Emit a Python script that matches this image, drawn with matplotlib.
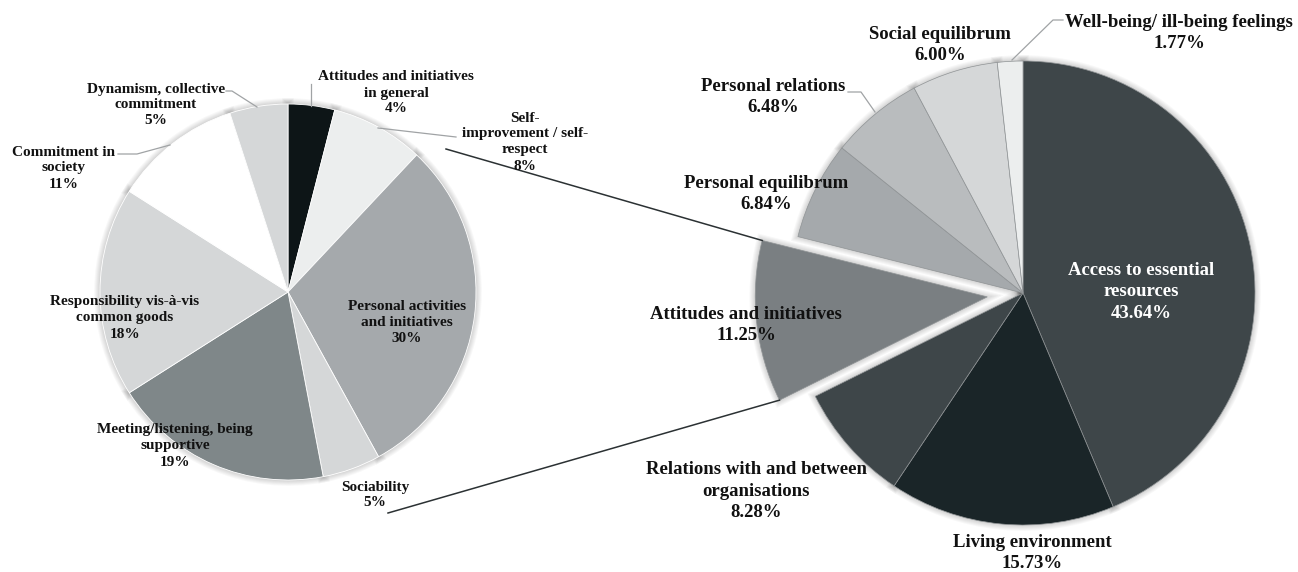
import matplotlib
matplotlib.use("Agg")
import matplotlib.pyplot as plt
from matplotlib.patches import Wedge
import numpy as np

# Left pie: breakdown of "Attitudes and initiatives"
left_labels = ["Attitudes and initiatives\nin general", "Self-\nimprovement / self-\nrespect",
               "Personal activities\nand initiatives", "Sociability",
               "Meeting/listening, being\nsupportive", "Responsibility vis-à-vis\ncommon goods",
               "Commitment in\nsociety", "Dynamism, collective\ncommitment"]
left_values = [4, 8, 30, 5, 19, 18, 11, 5]
left_colors = ["#0d1517", "#eceeee", "#a5a9ac", "#d5d7d8", "#7f8789", "#d5d7d8", "#ffffff", "#d5d7d8"]

# Right pie: all dimensions
right_labels = ["Access to essential\nresources", "Living environment",
                "Relations with and between\norganisations", "Attitudes and initiatives",
                "Personal equilibrum", "Personal relations", "Social equilibrum",
                "Well-being/ ill-being feelings"]
right_values = [43.64, 15.73, 8.28, 11.25, 6.84, 6.48, 6.00, 1.77]
right_colors = ["#3e4649", "#1a2528", "#3e4649", "#7a7f82", "#a5a9ac", "#b9bcbe", "#d5d7d8", "#eceeee"]

W, H = 1298, 572
fig = plt.figure(figsize=(W / 100, H / 100), dpi=100)
ax = fig.add_axes([0, 0, 1, 1])


def P(x, y):
    # pixel coords (y down) -> data coords (y up)
    return (x, H - y)


def glow(wedges):
    # soft grey halo behind every wedge
    for w in wedges:
        for k in range(1, 7):
            ax.add_patch(Wedge(w.center, w.r, w.theta1, w.theta2, facecolor="none",
                               edgecolor="black", lw=k * 1.4, alpha=0.026, zorder=0))


# left pie
wl, _ = ax.pie(left_values, colors=left_colors, startangle=90, counterclock=False,
               center=P(288, 292), radius=188, frame=False,
               wedgeprops=dict(edgecolor="white", linewidth=0.6, zorder=2))
glow(wl)

# right pie, "Attitudes and initiatives" pulled out
r_right = 232
explode = [0.155 * r_right if lab == "Attitudes and initiatives" else 0 for lab in right_labels]
wr, _ = ax.pie(right_values, colors=right_colors, startangle=90, counterclock=False,
               center=P(1023, 293), radius=r_right, explode=explode, frame=False,
               wedgeprops=dict(edgecolor="#8f9395", linewidth=0.5, zorder=2))
glow(wr)

ax.set_xlim(0, W)
ax.set_ylim(0, H)
ax.set_aspect("equal")
ax.axis("off")

# labels
left_pos = [(396, 93), (525, 142), (407, 322), (375, 495), (175, 446), (125, 318), (64, 168), (156, 105)]
for lab, v, (x, y) in zip(left_labels, left_values, left_pos):
    ax.text(*P(x, y), f"{lab}\n{v}%", ha="center", va="center", fontsize=11,
            fontweight="bold", family="Liberation Serif", linespacing=1.3,
            color="#111111", zorder=5)

right_pos = [(1141, 292), (1032, 553), (756, 491), (746, 325), (766, 194), (773, 97), (940, 45), (1179, 33)]
for i, (lab, v, (x, y)) in enumerate(zip(right_labels, right_values, right_pos)):
    ax.text(*P(x, y), f"{lab}\n{v:.2f}%", ha="center", va="center", fontsize=13.5,
            fontweight="bold", family="Liberation Serif", linespacing=1.36,
            color="white" if i == 0 else "#111111", zorder=5)

# leader lines
leaders = [
    [(311, 106), (311, 84)],
    [(378, 128), (456, 137)],
    [(170, 145), (137, 154), (118, 154)],
    [(257, 107), (232, 91), (226, 91)],
    [(875, 112), (861, 92), (848, 92)],
    [(1012, 60), (1053, 20), (1063, 20)],
]
for pts in leaders:
    xs = [p[0] for p in pts]
    ys = [H - p[1] for p in pts]
    ax.plot(xs, ys, color="#a0a3a5", lw=0.9, zorder=3)

# connector lines from left pie to the exploded wedge
w = wr[right_labels.index("Attitudes and initiatives")]
corners = [(w.center[0] + w.r * np.cos(np.radians(t)), w.center[1] + w.r * np.sin(np.radians(t)))
           for t in (w.theta1, w.theta2)]
upper = max(corners, key=lambda c: c[1])
lower = min(corners, key=lambda c: c[1])
for start, end in [(P(446, 149), upper), (P(388, 513), lower)]:
    ax.plot([start[0], end[0]], [start[1], end[1]], color="#2b3133", lw=1.1, zorder=4)

fig.savefig("out.png", dpi=100)
